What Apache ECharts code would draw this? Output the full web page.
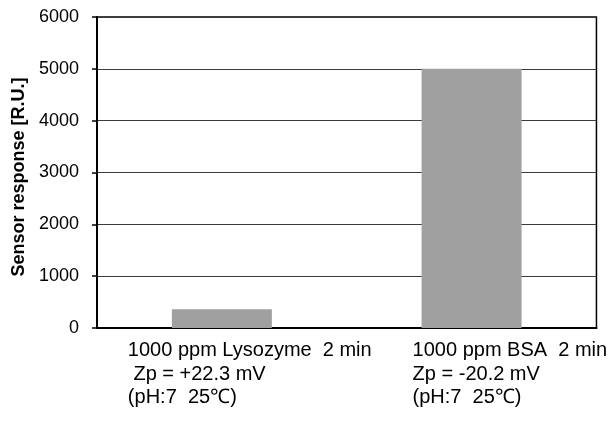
<!DOCTYPE html>
<html>
<head>
<meta charset="utf-8">
<script src="https://cdn.jsdelivr.net/npm/echarts@6/dist/echarts.min.js"></script>
<style>
  html, body { margin: 0; padding: 0; background: #fff; }
  #chart { width: 610px; height: 422px; }
</style>
</head>
<body>
<div id="chart"></div>
<script>
// Protein samples and their measured sensor responses
const categories = [
  '1000 ppm Lysozyme  2 min\n Zp = +22.3 mV\n(pH:7  25\u2103)',
  '1000 ppm BSA  2 min\nZp = -20.2 mV\n(pH:7  25\u2103)'
];
const responses = [360, 5000];
const yTicks = { min: 0, max: 6000, step: 1000 };

// horizontal shift of each multi-line category label (px, left edge relative to category centre)
const labelShift = [-94, -59];

const FONT = '"Liberation Sans", Arial, sans-serif';

const chart = echarts.init(document.getElementById('chart'), null, { renderer: 'canvas' });

chart.setOption({
  animation: false,
  backgroundColor: '#ffffff',
  grid: {
    left: 97, right: 13, top: 17, bottom: 94,
    show: true, borderColor: '#000000', borderWidth: 1.5, backgroundColor: 'transparent'
  },
  xAxis: {
    type: 'category',
    data: categories.map((c, i) => ({
      value: c,
      textStyle: { align: 'left', padding: [0, 0, 0, labelShift[i]] }
    })),
    axisLine: { lineStyle: { color: '#000000', width: 2 } },
    axisTick: { show: false },
    axisLabel: {
      interval: 0,
      verticalAlign: 'top',
      margin: 11,
      fontFamily: FONT,
      fontSize: 20,
      lineHeight: 23.5,
      color: '#000000'
    }
  },
  yAxis: {
    type: 'value',
    min: yTicks.min,
    max: yTicks.max,
    interval: yTicks.step,
    name: 'Sensor response [R.U.]',
    nameLocation: 'middle',
    nameGap: 69,
    nameTextStyle: {
      fontFamily: FONT, fontSize: 18, fontWeight: 'bold', color: '#000000',
      padding: [0, 9, 0, 0]
    },
    axisLine: { show: true, lineStyle: { color: '#000000', width: 2 } },
    axisTick: { show: true, length: 5, lineStyle: { color: '#000000', width: 1.5 } },
    axisLabel: {
      margin: 18, fontFamily: FONT, fontSize: 18, color: '#000000',
      formatter: v => String(v)
    },
    splitLine: { show: true, lineStyle: { color: '#3c3c3c', width: 1 } }
  },
  series: [{
    type: 'bar',
    data: responses,
    barWidth: 100,
    itemStyle: { color: '#a0a0a0' }
  }]
});
</script>
</body>
</html>
